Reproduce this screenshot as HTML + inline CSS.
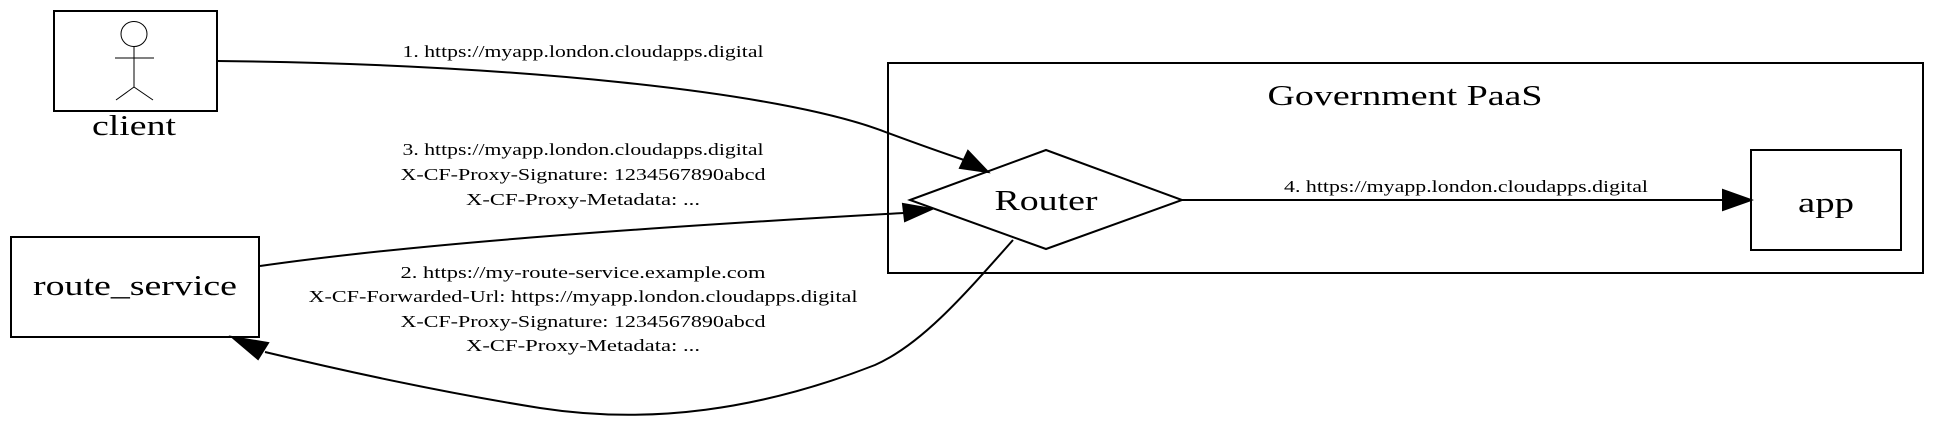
<!DOCTYPE html>
<html><head><meta charset="utf-8"><style>html,body{margin:0;padding:0;background:#fff}svg{display:block}</style></head>
<body>
<svg width="1957" height="425" viewBox="0 0 1957 425" xmlns="http://www.w3.org/2000/svg" font-family="Liberation Serif, serif">
<rect width="1957" height="425" fill="#fff"/>
<!-- cluster -->
<rect x="888" y="63" width="1035" height="210" fill="none" stroke="#000" stroke-width="2"/>
<text x="1405" y="105" font-size="28" text-anchor="middle" textLength="275" lengthAdjust="spacingAndGlyphs">Government PaaS</text>
<!-- client -->
<rect x="54" y="11" width="163" height="100" fill="none" stroke="#000" stroke-width="2"/>
<g stroke="#000" stroke-width="1" fill="none">
<ellipse cx="134" cy="34" rx="13" ry="12.5"/>
<line x1="134" y1="47" x2="134" y2="87"/>
<line x1="115" y1="58" x2="154" y2="58"/>
<line x1="134" y1="87" x2="116" y2="100"/>
<line x1="134" y1="87" x2="153" y2="100"/>
</g>
<text x="134" y="135" font-size="28" text-anchor="middle" textLength="84" lengthAdjust="spacingAndGlyphs">client</text>
<!-- route_service -->
<rect x="11" y="237" width="248" height="100" fill="none" stroke="#000" stroke-width="2"/>
<text x="135" y="295" font-size="28" text-anchor="middle" textLength="204" lengthAdjust="spacingAndGlyphs">route_service</text>
<!-- Router -->
<polygon points="910,200 1046,150 1182,200 1046,249" fill="none" stroke="#000" stroke-width="2"/>
<text x="1046" y="210" font-size="28" text-anchor="middle" textLength="103" lengthAdjust="spacingAndGlyphs">Router</text>
<!-- app -->
<rect x="1751" y="150" width="150" height="100" fill="none" stroke="#000" stroke-width="2"/>
<text x="1826" y="212" font-size="28" text-anchor="middle" textLength="56" lengthAdjust="spacingAndGlyphs">app</text>
<!-- edges -->
<g stroke="#000" stroke-width="2" fill="none">
<path d="M217,61 C500,64 780,90 888,133 C915,143 940,152 964,160"/>
<path d="M260,266 C400,246 600,230 904,213"/>
<path d="M1182,200 L1723,200"/>
<path d="M1013,240 C960,300 920,345 875,365 C760,410 650,425 540,408 C440,392 340,370 265,352"/>
</g>
<g fill="#000" stroke="#000" stroke-width="2">
<polygon points="988,172 960,168 968,151"/>
<polygon points="932,209 905,221 903,204"/>
<polygon points="1751,200 1723,210 1723,190"/>
<polygon points="232,337 268,343 258,359"/>
</g>
<!-- labels -->
<g font-size="17" text-anchor="middle">
<text x="583" y="57" textLength="361" lengthAdjust="spacingAndGlyphs">1. https://myapp.london.cloudapps.digital</text>
<text x="583" y="155" textLength="361" lengthAdjust="spacingAndGlyphs">3. https://myapp.london.cloudapps.digital</text>
<text x="583" y="180" textLength="365" lengthAdjust="spacingAndGlyphs">X-CF-Proxy-Signature: 1234567890abcd</text>
<text x="583" y="205" textLength="234" lengthAdjust="spacingAndGlyphs">X-CF-Proxy-Metadata: ...</text>
<text x="583" y="278" textLength="365" lengthAdjust="spacingAndGlyphs">2. https://my-route-service.example.com</text>
<text x="583" y="302" textLength="549" lengthAdjust="spacingAndGlyphs">X-CF-Forwarded-Url: https://myapp.london.cloudapps.digital</text>
<text x="583" y="327" textLength="365" lengthAdjust="spacingAndGlyphs">X-CF-Proxy-Signature: 1234567890abcd</text>
<text x="583" y="351" textLength="234" lengthAdjust="spacingAndGlyphs">X-CF-Proxy-Metadata: ...</text>
<text x="1466" y="192" textLength="364" lengthAdjust="spacingAndGlyphs">4. https://myapp.london.cloudapps.digital</text>
</g>
</svg>
</body></html>
